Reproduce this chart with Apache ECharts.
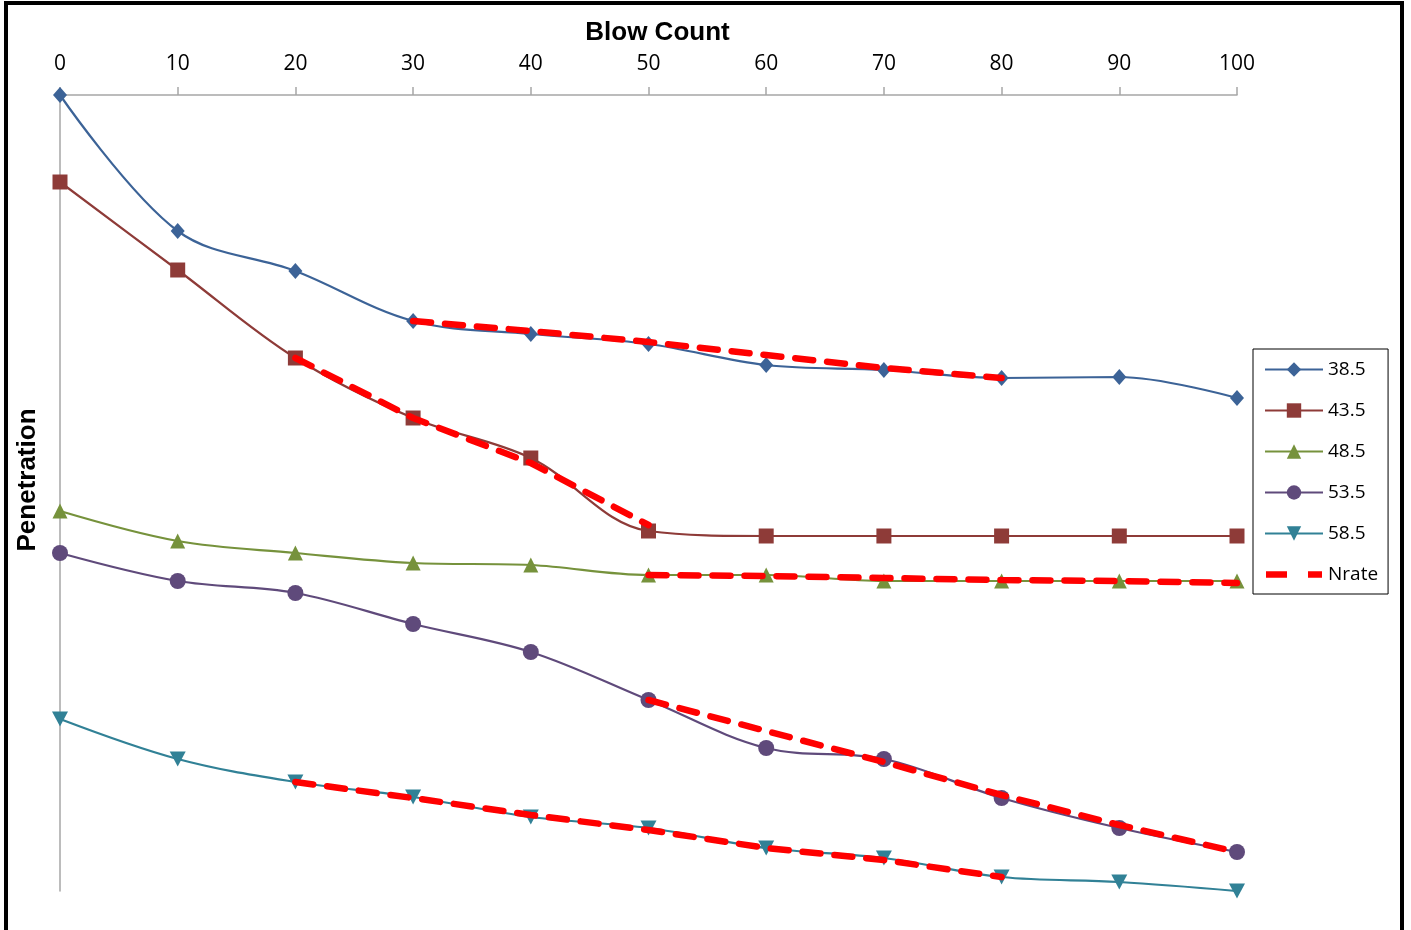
<!DOCTYPE html>
<html>
<head>
<meta charset="utf-8">
<script src="https://cdn.jsdelivr.net/npm/echarts@6/dist/echarts.min.js"></script>
<style>
html,body{margin:0;padding:0;background:#fff;width:1411px;height:930px;overflow:hidden;}
#frame{position:absolute;left:4px;top:1px;width:1392px;height:1000px;border:4px solid #000;box-sizing:content-box;}
#chart{position:absolute;left:0;top:0;width:1411px;height:930px;}
</style>
</head>
<body>
<div id="frame"></div>
<div id="chart"></div>
<script>
// Blow count categories (x)
const blowCount = [0, 10, 20, 30, 40, 50, 60, 70, 80, 90, 100];
const xTicks = [0, 10, 20, 30, 40, 50, 60, 70, 80, 90, 100];
// Penetration (relative units, increasing downward)
const s385 = [0, 136, 176, 226, 239, 249, 270, 275, 283, 282, 303];
const s435 = [87, 175, 263, 323, 363, 436, 441, 441, 441, 441, 441];
const s485 = [416, 446, 458, 468, 470, 480, 480, 486, 486, 486, 486];
const s535 = [458, 486, 498, 529, 557, 605, 653, 664, 703, 733, 757];
const s585 = [624, 664, 687, 702, 722, 733, 753, 763, 782, 787, 796];
// Nrate segments
const nrateA_x = [30, 40, 50, 60, 70, 80];
const nrateA_y = [226, 236, 247, 260, 273, 283];
const nrateB_x = [20, 30, 40, 50];
const nrateB_y = [263, 323, 368, 430];
const nrateC_x = [50, 60, 70, 80, 90, 100];
const nrateC_y = [480, 481, 483, 485, 486, 488];
const nrateD_x = [50, 60, 70, 80, 90, 100];
const nrateD_y = [605, 636, 667, 700, 730, 757];
const nrateE_x = [20, 30, 40, 50, 60, 70, 80];
const nrateE_y = [687, 703, 720, 735, 753, 765, 782];

const zip = (xs, ys) => xs.map((x, i) => [x, ys[i]]);

const chart = echarts.init(document.getElementById('chart'), null, {renderer: 'canvas'});

function mainSeries(name, vals, color, symbol, size) {
  return {
    name: name, type: 'line', data: zip(blowCount, vals),
    smooth: 0.35, symbol: symbol, symbolSize: size, showAllSymbol: true,
    lineStyle: {color: color, width: 2.2},
    itemStyle: {color: color},
    z: 2
  };
}
function nrateSeries(xs, ys) {
  return {
    name: 'Nrate', type: 'line', data: zip(xs, ys), smooth: false,
    symbol: 'none',
    lineStyle: {color: '#FF0000', width: 6.5, type: [18, 14], cap: 'round'},
    itemStyle: {color: '#FF0000'},
    z: 5
  };
}

// legend icon for the dashed Nrate entry (two dashes)
const nrateIcon = 'path://M0,0 L0.01,0 L0,0.01 Z M58,18 L57.99,18 L58,17.99 Z ' +
  'M1,5.75 L22,5.75 L22,12.25 L1,12.25 Z ' +
  'M43,5.75 L57,5.75 L57,12.25 L43,12.25 Z';

const option = {
  animation: false,
  backgroundColor: 'transparent',
  grid: {left: 60, right: 174, top: 95, bottom: 39},
  xAxis: {
    type: 'value', position: 'top', min: 0, max: 100, interval: 10,
    name: 'Blow Count', nameLocation: 'middle', nameGap: 49,
    nameTextStyle: {fontFamily: 'Liberation Sans', fontWeight: 'bold', fontSize: 26, color: '#000', padding: [0, 0, 0, 18]},
    axisLine: {show: true, lineStyle: {color: '#A6A6A6', width: 1.5}},
    axisTick: {show: true, inside: false, length: 8, lineStyle: {color: '#A6A6A6', width: 1.5}},
    axisLabel: {fontFamily: 'Open Sans', fontSize: 21, color: '#000', margin: 20,
      formatter: v => xTicks.includes(v) ? String(v) : ''},
    splitLine: {show: false}
  },
  yAxis: {
    type: 'value', inverse: true, min: 0, max: 796,
    axisLine: {show: true, lineStyle: {color: '#A6A6A6', width: 1.5}},
    axisTick: {show: false},
    axisLabel: {show: false},
    splitLine: {show: false}
  },
  graphic: [{
    type: 'text', x: 28, y: 480, rotation: Math.PI / 2,
    style: {text: 'Penetration', fontFamily: 'Liberation Sans', fontWeight: 'bold', fontSize: 26,
      fill: '#000', align: 'center', verticalAlign: 'middle'}
  }],
  legend: {
    orient: 'vertical', left: 1253, top: 349,
    padding: [11, 10, 10, 11],
    borderColor: '#000', borderWidth: 1,
    itemWidth: 58, itemHeight: 18, itemGap: 22,
    textStyle: {fontFamily: 'Open Sans', fontSize: 19, color: '#000'},
    data: ['38.5', '43.5', '48.5', '53.5', '58.5',
      {name: 'Nrate', icon: nrateIcon, itemStyle: {color: '#FF0000'}}]
  },
  series: [
    mainSeries('38.5', s385, '#3C6397', 'diamond', [14, 16]),
    mainSeries('43.5', s435, '#8E3B38', 'rect', 15),
    mainSeries('48.5', s485, '#76923C', 'triangle', 15),
    mainSeries('53.5', s535, '#5F4A7B', 'circle', 16),
    mainSeries('58.5', s585, '#318196', 'path://M0,0 L10,0 L5,10 Z', [16, 15]),
    nrateSeries(nrateA_x, nrateA_y),
    nrateSeries(nrateB_x, nrateB_y),
    nrateSeries(nrateC_x, nrateC_y),
    nrateSeries(nrateD_x, nrateD_y),
    nrateSeries(nrateE_x, nrateE_y)
  ]
};
chart.setOption(option);
</script>
</body>
</html>
